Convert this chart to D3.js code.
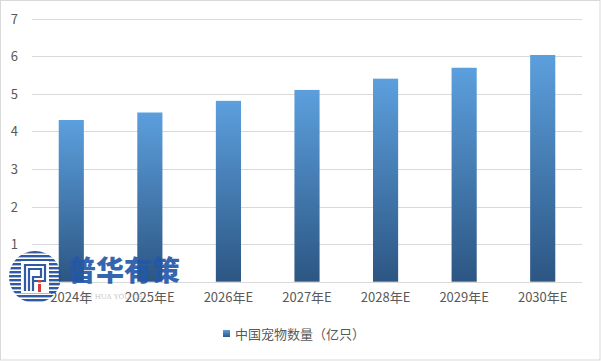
<!DOCTYPE html>
<html><head><meta charset="utf-8">
<script src="https://cdn.jsdelivr.net/npm/d3@7"></script>
<style>body{margin:0;background:#fff}svg{display:block}</style>
</head><body>
<script>
const categories = ["2024年","2025年E","2026年E","2027年E","2028年E","2029年E","2030年E"];
const values = [4.3, 4.5, 4.81, 5.1, 5.4, 5.69, 6.03];
const yTicks = [1,2,3,4,5,6,7];
const seriesName = "中国宠物数量（亿只）";

const W = 601, H = 361;
const svg = d3.select("body").append("svg").attr("width", W).attr("height", H);
const font = "'Microsoft YaHei','Noto Sans CJK SC','DejaVu Sans',sans-serif";

svg.append("rect").attr("x",0.5).attr("y",0.5).attr("width",W-1.5).attr("height",H-1.5)
  .attr("fill","#fff").attr("stroke","#d9d9d9");

const defs = svg.append("defs");
const g1 = defs.append("linearGradient").attr("id","bg").attr("x1",0).attr("y1",0).attr("x2",0).attr("y2",1);
g1.append("stop").attr("offset","0%").attr("stop-color","#5c9fdd");
g1.append("stop").attr("offset","100%").attr("stop-color","#2c5683");

const x = d3.scaleBand().domain(categories).range([32, 582]).paddingInner(0.68).paddingOuter(0.34);
const y = d3.scaleLinear().domain([0, 7]).range([281.7, 18.5]);

// gridlines
svg.append("g").selectAll("line").data(yTicks).join("line")
  .attr("x1",32).attr("x2",582)
  .attr("y1",d=>Math.round(y(d))+0.5).attr("y2",d=>Math.round(y(d))+0.5)
  .attr("stroke","#d9d9d9").attr("stroke-width",1);

// y labels
svg.append("g").selectAll("text").data(yTicks).join("text")
  .attr("x",18).attr("y",d=>y(d)+5).attr("text-anchor","end")
  .attr("font-family",font).attr("font-size",13).attr("fill","#595959").text(d=>d);

// bars
svg.append("g").selectAll("rect").data(values).join("rect")
  .attr("x",(d,i)=>x(categories[i])).attr("width",x.bandwidth())
  .attr("y",d=>y(d)).attr("height",d=>y(0)-y(d))
  .attr("fill","url(#bg)");

// baseline
svg.append("line").attr("x1",32).attr("x2",582).attr("y1",Math.round(y(0))+0.5).attr("y2",Math.round(y(0))+0.5)
  .attr("stroke","#d9d9d9");

// x labels
svg.append("g").selectAll("text").data(categories).join("text")
  .attr("x",d=>x(d)+x.bandwidth()/2).attr("y",302)
  .attr("text-anchor","middle").attr("font-family",font).attr("font-size",13)
  .attr("fill","#595959").text(d=>d);

// legend
svg.append("rect").attr("x",223).attr("y",330).attr("width",7).attr("height",7).attr("fill","url(#bg)");
svg.append("text").attr("x",235).attr("y",339).attr("font-family",font).attr("font-size",13)
  .attr("fill","#595959").text(seriesName);

// watermark logo
const wm = svg.append("g").attr("opacity",0.92);
const cx = 35, cy = 277, r = 26;
defs.append("clipPath").attr("id","cc").append("circle").attr("cx",cx).attr("cy",cy).attr("r",r);
const stripes = wm.append("g").attr("clip-path","url(#cc)");
d3.range(cy-r, cy+r, 4).forEach(yy=>{
  stripes.append("rect").attr("x",cx-r).attr("y",yy).attr("width",2*r).attr("height",2.4).attr("fill","#1f4e9c");
});
wm.append("rect").attr("x",cx-14).attr("y",cy-16).attr("width",28).attr("height",32).attr("fill","#fff");
wm.append("path").attr("d",`M${cx-10},${cy+14} V${cy-12} H${cx+10} V${cy+4} H${cx-2} M${cx-6},${cy+14} V${cy-8} H${cx+6} V${cy} H${cx-2} V${cy+14}`)
  .attr("fill","none").attr("stroke","#1f4e9c").attr("stroke-width",2.2);
wm.append("rect").attr("x",cx+3).attr("y",cy+7).attr("width",3).attr("height",8).attr("fill","#d42a2a");
wm.append("rect").attr("x",cx+3).attr("y",cy+3).attr("width",3).attr("height",2.5).attr("fill","#d42a2a");
wm.append("text").attr("x",68).attr("y",281).attr("font-family",font).attr("font-weight","900")
  .attr("font-size",28).attr("fill","#2358a8").text("普华有策");
wm.append("text").attr("x",82).attr("y",299).attr("font-family","'DejaVu Serif',serif")
  .attr("font-size",7).attr("fill","#9a9a9a").attr("opacity",0.6).text("PU HUA YOU CE");
</script>
</body></html>
